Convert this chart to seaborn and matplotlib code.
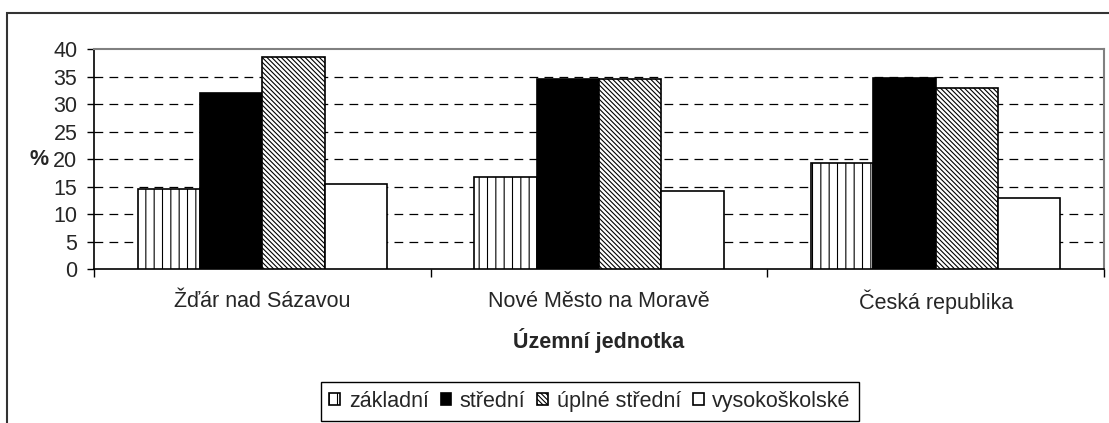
import numpy as np
import pandas as pd
import matplotlib
matplotlib.use('Agg')
import matplotlib.pyplot as plt
from matplotlib.patches import Rectangle
from matplotlib.ticker import FixedLocator
import seaborn as sns

# Data
jednotky = ['Žďár nad Sázavou', 'Nové Město na Moravě', 'Česká republika']
vzdelani = ['základní', 'střední', 'úplné střední', 'vysokoškolské']
zakladni = [14.6, 16.8, 19.3]
stredni = [32.0, 34.5, 34.8]
uplne_stredni = [38.6, 34.5, 32.9]
vysokoskolske = [15.5, 14.2, 13.0]

df = pd.DataFrame({
    'jednotka': jednotky * 4,
    'vzdelani': np.repeat(vzdelani, 3),
    'procent': zakladni + stredni + uplne_stredni + vysokoskolske,
})

sns.set_style('white')
plt.rcParams['font.family'] = ['Liberation Sans', 'DejaVu Sans']
plt.rcParams['hatch.linewidth'] = 0.8
FS = 15.5

barvy = {'základní': 'white', 'střední': 'black',
         'úplné střední': 'white', 'vysokoškolské': 'white'}
srafy = ['||', '', '\\\\\\\\\\\\\\', '']

fig = plt.figure(figsize=(11.09, 4.23), dpi=100)
ax = fig.add_axes([94 / 1109, 1 - 269 / 423, 1010 / 1109, 220 / 423])

sns.barplot(data=df, x='jednotka', y='procent', hue='vzdelani',
            order=jednotky, hue_order=vzdelani, palette=barvy,
            saturation=1, width=0.74, edgecolor='black', linewidth=1.2,
            legend=False, ax=ax, zorder=3)

for cont, h in zip(ax.containers, srafy):
    for bar in cont.patches:
        bar.set_hatch(h)
        bar.set_edgecolor('black')

ax.set_ylim(0, 40)
ax.set_xlim(-0.5, 2.5)
ax.set_yticks(range(0, 41, 5))
for v in range(5, 40, 5):
    ax.axhline(v, color='black', lw=0.9, ls=(0, (7, 5)), zorder=1)

ax.tick_params(axis='y', which='major', direction='out', length=5,
               width=1, color='black', labelsize=FS, pad=7, left=True)
ax.tick_params(axis='x', which='major', length=0, labelsize=FS, pad=23.5)
for lbl in ax.get_xticklabels():
    lbl.set_va('center')
ax.xaxis.set_minor_locator(FixedLocator([-0.5, 0.5, 1.5, 2.5]))
ax.tick_params(axis='x', which='minor', direction='out', length=6,
               width=1, color='black', bottom=True)

for s in ['left', 'bottom']:
    ax.spines[s].set_color('black')
    ax.spines[s].set_linewidth(1.2)
for s in ['top', 'right']:
    ax.spines[s].set_color('#808080')
    ax.spines[s].set_linewidth(1.5)

ax.set_xlabel('Územní jednotka', fontsize=FS, fontweight='bold',
              va='center')
ax.xaxis.set_label_coords(0.5, (269 - 340) / 220)
ax.set_ylabel('%', fontsize=FS, fontweight='bold', rotation=0,
              ha='center', va='center')
ax.yaxis.set_label_coords((39 - 94) / 1010, 0.5)

fig.legend(handles=ax.containers, labels=vzdelani, loc='center',
           bbox_to_anchor=(590 / 1109, 1 - 401.5 / 423), ncol=4,
           fontsize=FS, frameon=True, fancybox=False, edgecolor='black',
           framealpha=1, handlelength=0.5, handleheight=0.5,
           handletextpad=0.4, columnspacing=0.55, borderpad=0.4,
           borderaxespad=0)
fig.legends[0].get_frame().set_linewidth(1.0)

fig.patches.append(Rectangle((7 / 1109, -0.1), 2, 1.1 - 13 / 423,
                             transform=fig.transFigure, fill=False,
                             edgecolor='#333333', lw=1.5))

fig.savefig('out.png', dpi=100)
